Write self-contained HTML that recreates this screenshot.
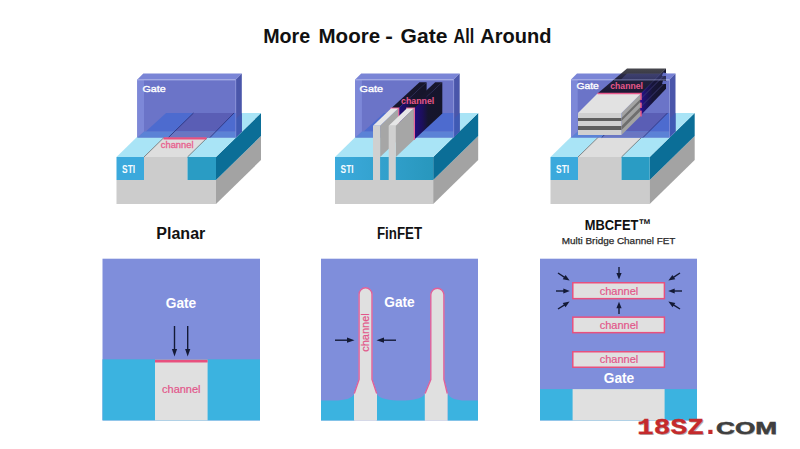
<!DOCTYPE html>
<html><head><meta charset="utf-8"><style>
html,body{margin:0;padding:0;background:#fff;}
body{width:800px;height:449px;overflow:hidden;}
svg{display:block;}
text{font-family:"Liberation Sans",sans-serif;}
.title{font-size:20.6px;font-weight:bold;fill:#111;}
.lab{font-size:16px;font-weight:bold;fill:#111;}
.sub{font-size:9.4px;fill:#2a2a2a;stroke:#2a2a2a;stroke-width:0.25px;}
.sti{font-size:10.8px;font-weight:bold;fill:#f4fbff;}
.g3{font-size:9.6px;font-weight:normal;fill:#fff;stroke:#fff;stroke-width:0.35px;}
.ch3{font-size:8.6px;font-weight:bold;fill:#e8588a;}
.ch3p{font-size:9px;font-weight:normal;fill:#e8608e;stroke:#e8608e;stroke-width:0.3px;}
.g4{font-size:14px;font-weight:bold;fill:#fff;}
.ch4{font-size:11px;fill:#e2568a;stroke:#e2568a;stroke-width:0.2px;}
.wm{font-family:"Liberation Sans",sans-serif;font-weight:bold;}
</style></head><body>
<svg width="800" height="449" viewBox="0 0 800 449">
<defs>
<linearGradient id="stig" x1="0" y1="0" x2="1" y2="0"><stop offset="0" stop-color="#3caadc"/><stop offset="1" stop-color="#2897bd"/></linearGradient>
<linearGradient id="darkg" x1="0" y1="0" x2="1" y2="0"><stop offset="0" stop-color="#220c80"/><stop offset="0.3" stop-color="#1c0f5a"/><stop offset="0.5" stop-color="#16152e"/><stop offset="1" stop-color="#15152a"/></linearGradient>
<linearGradient id="darkg2" x1="0" y1="0" x2="1" y2="0"><stop offset="0" stop-color="#24108a"/><stop offset="0.45" stop-color="#17153a"/><stop offset="1" stop-color="#141428"/></linearGradient>
<linearGradient id="dtop" x1="0" y1="1" x2="0" y2="0"><stop offset="0" stop-color="#1a1834"/><stop offset="0.55" stop-color="#20203c"/><stop offset="0.76" stop-color="#2c2c48"/><stop offset="0.79" stop-color="#3a3a46"/><stop offset="1" stop-color="#46464c"/></linearGradient>
</defs>
<rect width="800" height="449" fill="#fff"/>
<g class="title">
<text x="263.2" y="42.8" textLength="47" lengthAdjust="spacingAndGlyphs">More</text>
<text x="318.5" y="42.8" textLength="61.6" lengthAdjust="spacingAndGlyphs">Moore</text>
<text x="385.3" y="42.8" textLength="7.6" lengthAdjust="spacingAndGlyphs">-</text>
<text x="400.6" y="42.8" textLength="46.8" lengthAdjust="spacingAndGlyphs">Gate</text>
<text x="453.6" y="42.8" textLength="20.6" lengthAdjust="spacingAndGlyphs">All</text>
<text x="480.2" y="42.8" textLength="71.2" lengthAdjust="spacingAndGlyphs">Around</text>
</g>
<rect x="116.5" y="180" width="99.5" height="24" fill="#cccccc"/>
<polygon points="216.0,180.0 261.0,136.0 261.0,160.0 216.0,204.0" fill="#a3a3a3"/>
<polygon points="216.0,157.0 261.0,113.0 261.0,136.0 216.0,180.0" fill="#0b6e97"/>
<polygon points="116.5,157.0 144.0,157.0 189.0,113.0 161.5,113.0" fill="#a9e4f6"/>
<polygon points="144.0,157.0 187.5,157.0 232.5,113.0 189.0,113.0" fill="#dedede"/>
<polygon points="187.5,157.0 216.0,157.0 261.0,113.0 232.5,113.0" fill="#a9e4f6"/>
<rect x="116.5" y="157" width="27.5" height="23" fill="#3ba9dc"/>
<rect x="144.0" y="157" width="43.5" height="23" fill="#cccccc"/>
<rect x="187.5" y="157" width="28.5" height="23" fill="#2a9cc4"/>
<line x1="144.0" y1="157" x2="189.0" y2="113" stroke="#3a3a3a" stroke-width="0.7" opacity="0.8"/>
<line x1="187.5" y1="157" x2="232.5" y2="113" stroke="#3a3a3a" stroke-width="0.7" opacity="0.8"/>
<text x="122.1" y="172.7" class="sti" textLength="13" lengthAdjust="spacingAndGlyphs">STI</text>
<polygon points="137.3,79.6 235.8,79.6 241.8,73.6 143.3,73.6" fill="#7a85d6"/>
<polygon points="235.8,79.6 241.8,73.6 241.8,131.5 235.8,137.5" fill="#4a56aa"/>
<polygon points="235.8,119.0 241.8,113.0 241.8,131.5 235.8,137.5" fill="#3f5ab4"/>
<rect x="137.3" y="79.6" width="98.5" height="57.900000000000006" fill="#6b74c8"/>
<polygon points="145.8,131.6 166.1,113.0 235.8,113.0 235.8,131.6" fill="#4d6bcf"/>
<polygon points="174.4,131.6 193.5,113.0 234.0,113.0 215.8,131.6" fill="#5a5eb5"/>
<polygon points="144.0,131.6 235.8,131.6 235.8,137.5 137.3,137.5" fill="#5b82d6"/>
<polygon points="174.4,131.6 215.8,131.6 210.0,137.5 168.4,137.5" fill="#6a76c2"/>
<line x1="168.4" y1="137.5" x2="193.5" y2="113" stroke="#283078" stroke-width="0.8"/>
<line x1="210" y1="137.5" x2="234" y2="113" stroke="#283078" stroke-width="0.8"/>
<polygon points="137.3,79.6 144.0,80.1 144.0,131.6 137.3,137.5" fill="#7d88d8"/>
<line x1="137.3" y1="79.89999999999999" x2="235.8" y2="79.89999999999999" stroke="#a9b0ea" stroke-width="0.9"/>
<line x1="235.8" y1="79.6" x2="235.8" y2="137.5" stroke="#8a94dc" stroke-width="0.6"/>
<rect x="163.5" y="137.3" width="43" height="2.2" fill="#e8507e"/>
<text x="160.8" y="147.7" class="ch3p" textLength="32.7" lengthAdjust="spacingAndGlyphs">channel</text>
<text x="142.5" y="91.8" class="g3" textLength="23.2" lengthAdjust="spacingAndGlyphs">Gate</text>
<rect x="335" y="180" width="98.2" height="24" fill="#cccccc"/>
<polygon points="433.2,180.0 478.2,136.0 478.2,160.0 433.2,204.0" fill="#a3a3a3"/>
<polygon points="433.2,157.0 478.2,113.0 478.2,136.0 433.2,180.0" fill="#0b6e97"/>
<polygon points="335.0,157.0 433.2,157.0 478.2,113.0 380.0,113.0" fill="#a9e4f6"/>
<rect x="335" y="157" width="98.2" height="23" fill="url(#stig)"/>
<text x="340.6" y="172.7" class="sti" textLength="13" lengthAdjust="spacingAndGlyphs">STI</text>
<polygon points="355.2,79.6 453.7,79.6 459.7,73.6 361.2,73.6" fill="#7a85d6"/>
<polygon points="453.7,79.6 459.7,73.6 459.7,131.5 453.7,137.5" fill="#4a56aa"/>
<polygon points="453.7,119.0 459.7,113.0 459.7,131.5 453.7,137.5" fill="#3f5ab4"/>
<rect x="355.2" y="79.6" width="98.5" height="57.900000000000006" fill="#6b74c8"/>
<polygon points="363.7,131.6 384.0,113.0 453.7,113.0 453.7,131.6" fill="#4d6bcf"/>
<polygon points="361.9,131.6 453.7,131.6 453.7,137.5 355.2,137.5" fill="#5b82d6"/>
<polygon points="355.2,79.6 361.9,80.1 361.9,131.6 355.2,137.5" fill="#7d88d8"/>
<line x1="355.2" y1="79.89999999999999" x2="453.7" y2="79.89999999999999" stroke="#a9b0ea" stroke-width="0.9"/>
<line x1="453.7" y1="79.6" x2="453.7" y2="137.5" stroke="#8a94dc" stroke-width="0.6"/>
<text x="359.6" y="91.8" class="g3" textLength="23.5" lengthAdjust="spacingAndGlyphs">Gate</text>
<polygon points="391.0,108.6 398.1,108.6 426.6,82.2 419.5,82.2" fill="#17162c"/>
<polygon points="398.1,108.6 426.6,82.2 426.6,113.6 398.1,139.9" fill="url(#darkg)"/>
<polygon points="406.7,108.6 413.8,108.6 442.3,82.2 435.2,82.2" fill="#17162c"/>
<polygon points="413.8,108.6 442.3,82.2 442.3,113.6 413.8,139.9" fill="url(#darkg)"/>
<polyline points="390.5,108.3 398.4,108.3 398.4,139.9" fill="none" stroke="#e8649a" stroke-width="1.8"/>
<polyline points="406.2,108.3 414.1,108.3 414.1,139.9" fill="none" stroke="#e8649a" stroke-width="1.8"/>
<text x="401" y="103.7" class="ch3" textLength="33.3" lengthAdjust="spacingAndGlyphs">channel</text>
<polygon points="380.1,125.7 398.1,108.6 398.1,139.9 380.1,157.0" fill="#a6a6a6"/>
<polygon points="373.0,125.7 380.1,125.7 398.1,108.6 391.0,108.6" fill="#e6e6e6"/>
<rect x="373.0" y="125.7" width="7.1" height="54.3" fill="#d0d0d0"/>
<polygon points="395.8,125.7 413.8,108.6 413.8,139.9 395.8,157.0" fill="#a6a6a6"/>
<polygon points="388.7,125.7 395.8,125.7 413.8,108.6 406.7,108.6" fill="#e6e6e6"/>
<rect x="388.7" y="125.7" width="7.1" height="54.3" fill="#d0d0d0"/>
<rect x="550.5" y="180" width="99.2" height="24" fill="#cccccc"/>
<polygon points="649.7,180.0 694.7,136.0 694.7,160.0 649.7,204.0" fill="#a3a3a3"/>
<polygon points="649.7,157.0 694.7,113.0 694.7,136.0 649.7,180.0" fill="#0b6e97"/>
<polygon points="550.5,157.0 578.0,157.0 623.0,113.0 595.5,113.0" fill="#a9e4f6"/>
<polygon points="578.0,157.0 621.5,157.0 666.5,113.0 623.0,113.0" fill="#dedede"/>
<polygon points="621.5,157.0 649.7,157.0 694.7,113.0 666.5,113.0" fill="#a9e4f6"/>
<rect x="550.5" y="157" width="27.5" height="23" fill="#3ba9dc"/>
<rect x="578.0" y="157" width="43.5" height="23" fill="#cccccc"/>
<rect x="621.5" y="157" width="28.200000000000045" height="23" fill="#2a9cc4"/>
<line x1="578.0" y1="157" x2="623.0" y2="113" stroke="#3a3a3a" stroke-width="0.7" opacity="0.8"/>
<line x1="621.5" y1="157" x2="666.5" y2="113" stroke="#3a3a3a" stroke-width="0.7" opacity="0.8"/>
<text x="556.1" y="172.7" class="sti" textLength="13" lengthAdjust="spacingAndGlyphs">STI</text>
<polygon points="571.0,79.6 669.5,79.6 675.5,73.6 577.0,73.6" fill="#7a85d6"/>
<polygon points="669.5,79.6 675.5,73.6 675.5,131.5 669.5,137.5" fill="#4a56aa"/>
<polygon points="669.5,119.0 675.5,113.0 675.5,131.5 669.5,137.5" fill="#3f5ab4"/>
<rect x="571" y="79.6" width="98.5" height="57.900000000000006" fill="#6b74c8"/>
<polygon points="579.5,131.6 599.8,113.0 669.5,113.0 669.5,131.6" fill="#4d6bcf"/>
<polygon points="607.7,131.6 626.5,113.0 667.5,113.0 648.9,131.6" fill="#5a5eb5"/>
<polygon points="577.7,131.6 669.5,131.6 669.5,137.5 571.0,137.5" fill="#5b82d6"/>
<polygon points="607.7,131.6 648.9,131.6 643.0,137.5 601.7,137.5" fill="#6a76c2"/>
<line x1="601.7" y1="137.5" x2="626.5" y2="113" stroke="#283078" stroke-width="0.8"/>
<line x1="643" y1="137.5" x2="667.5" y2="113" stroke="#283078" stroke-width="0.8"/>
<polygon points="571.0,79.6 577.7,80.1 577.7,131.6 571.0,137.5" fill="#7d88d8"/>
<line x1="571" y1="79.89999999999999" x2="669.5" y2="79.89999999999999" stroke="#a9b0ea" stroke-width="0.9"/>
<line x1="669.5" y1="79.6" x2="669.5" y2="137.5" stroke="#8a94dc" stroke-width="0.6"/>
<text x="576.4" y="89.4" class="g3" textLength="22.5" lengthAdjust="spacingAndGlyphs">Gate</text>
<polygon points="597.5,93.5 641.0,93.5 666.0,68.4 627.0,68.4" fill="url(#dtop)"/>
<polygon points="641.0,93.5 666.0,68.4 666.0,88.7 641.0,115.0" fill="url(#darkg2)"/>
<line x1="641.0" y1="98.5" x2="666" y2="73.5" stroke="#3a3870" stroke-width="0.9"/>
<line x1="641.0" y1="106.5" x2="666" y2="81.5" stroke="#3a3870" stroke-width="0.9"/>
<polygon points="663.0,72.5 666.0,73.0 666.0,76.0 662.0,76.0" fill="#5f6ac0"/>
<polygon points="663.0,80.5 666.0,81.0 666.0,84.0 662.0,84.0" fill="#5f6ac0"/>
<polygon points="621.0,79.6 669.5,79.6 675.5,73.6 627.0,73.6" fill="#6a74d0" opacity="0.28"/>
<line x1="614" y1="79.9" x2="669.5" y2="79.9" stroke="#a9b0ea" stroke-width="0.9" opacity="0.7"/>
<text x="610.3" y="88.9" class="ch3" textLength="32.6" lengthAdjust="spacingAndGlyphs">channel</text>
<polygon points="621.5,113.0 641.0,93.5 641.0,115.5 621.5,135.0" fill="#a3a3a3"/>
<polygon points="621.5,118.0 641.0,98.5 641.0,101.5 621.5,121.0" fill="#6e6e6e"/>
<polygon points="621.5,126.0 641.0,106.5 641.0,110.5 621.5,130.0" fill="#6e6e6e"/>
<polygon points="578.0,113.0 621.5,113.0 641.0,93.5 597.5,93.5" fill="#e2e2e2"/>
<rect x="578" y="113" width="43.5" height="22" fill="#d0d0d0"/>
<rect x="578" y="118" width="43.5" height="3" fill="#5e5e5e"/>
<rect x="578" y="126" width="43.5" height="4" fill="#5e5e5e"/>
<polyline points="597.5,93.5 641.0,93.5 641.0,116.5" fill="none" stroke="#e8588c" stroke-width="1.5"/>
<rect x="640.2" y="100" width="2.5" height="2.6" fill="#2a0e8a"/>
<rect x="640.2" y="108" width="2.5" height="2.6" fill="#2a0e8a"/>
<text x="156.3" y="238.8" class="lab" textLength="49" lengthAdjust="spacingAndGlyphs">Planar</text>
<text x="377" y="238.8" class="lab" textLength="45" lengthAdjust="spacingAndGlyphs">FinFET</text>
<text x="584.8" y="229.5" class="lab" style="font-size:15.3px" textLength="66.5" lengthAdjust="spacingAndGlyphs">MBCFET™</text>
<text x="561.8" y="244.2" class="sub" textLength="113.6" lengthAdjust="spacingAndGlyphs">Multi Bridge Channel FET</text>
<rect x="102.5" y="258.7" width="157.5" height="161.7" fill="#7f8edb"/>
<rect x="102.5" y="359.3" width="157.5" height="61.1" fill="#3bb3e0"/>
<rect x="155" y="359.7" width="52.6" height="60.7" fill="#e0e0e0"/>
<rect x="155" y="359.7" width="52.6" height="2.8" fill="#e8507e"/>
<text x="181" y="307.5" class="g4" text-anchor="middle" textLength="30.5" lengthAdjust="spacingAndGlyphs">Gate</text>
<text x="181.3" y="392.5" class="ch4" text-anchor="middle">channel</text>
<line x1="174.5" y1="326" x2="174.5" y2="350" stroke="#141a36" stroke-width="1.4"/>
<polygon points="171.9,349.0 177.1,349.0 174.5,356.5" fill="#141a36"/>
<line x1="187.7" y1="326" x2="187.7" y2="350" stroke="#141a36" stroke-width="1.4"/>
<polygon points="185.1,349.0 190.3,349.0 187.7,356.5" fill="#141a36"/>
<rect x="321" y="258.7" width="157" height="161.7" fill="#7f8edb"/>
<path d="M321,400.5 L334,400.5 C345,400.5 352,398.5 354.5,393.5 L354.5,420.4 L321,420.4 Z" fill="#3bb3e0"/>
<path d="M376.5,393.5 C379,399 390,400.5 401,400.5 C412,400.5 422.5,399 425,393.5 L425,420.4 L376.5,420.4 Z" fill="#3bb3e0"/>
<path d="M447.5,393.5 C450,398.5 457,400.5 465,400.5 L478,400.5 L478,420.4 L447.5,420.4 Z" fill="#3bb3e0"/>
<path d="M358.8,294.25 A6.75,6.75 0 0 1 372.3,294.25 L372.3,379.5 L377,393.5 L377,420.4 L354,420.4 L354,393.5 L358.8,379.5 Z" fill="#e0e0e0"/>
<path d="M354.3,393.5 L359.1,379.5 L359.1,294.25 A6.45,6.45 0 0 1 372.0,294.25 L372.0,379.5 L376.7,393.5" fill="none" stroke="#e0609a" stroke-width="1.4"/>
<path d="M430.5,294.85 A6.849999999999994,6.849999999999994 0 0 1 444.2,294.85 L444.2,379.5 L447.6,393.5 L447.6,420.4 L424.8,420.4 L424.8,393.5 L430.5,379.5 Z" fill="#e0e0e0"/>
<path d="M425.1,393.5 L430.8,379.5 L430.8,294.85 A6.5499999999999945,6.5499999999999945 0 0 1 443.9,294.85 L443.9,379.5 L447.3,393.5" fill="none" stroke="#e0609a" stroke-width="1.4"/>
<text x="0" y="0" class="ch4" text-anchor="middle" transform="translate(369.4,332.5) rotate(-90)">channel</text>
<text x="399.5" y="307.3" class="g4" text-anchor="middle" textLength="30.5" lengthAdjust="spacingAndGlyphs">Gate</text>
<line x1="335" y1="340.2" x2="348" y2="340.2" stroke="#141a36" stroke-width="1.4"/>
<polygon points="347.0,337.6 347.0,342.8 354.5,340.2" fill="#141a36"/>
<line x1="396" y1="340.2" x2="383" y2="340.2" stroke="#141a36" stroke-width="1.4"/>
<polygon points="384.0,337.6 384.0,342.8 376.5,340.2" fill="#141a36"/>
<rect x="540" y="258.7" width="157" height="161.7" fill="#7f8edb"/>
<rect x="540" y="389.1" width="157" height="31.3" fill="#3bb3e0"/>
<rect x="572.6" y="389.1" width="92" height="31.3" fill="#e0e0e0"/>
<rect x="572.8" y="282.75" width="91.6" height="15.899999999999977" fill="#e0e0e0" stroke="#e8507e" stroke-width="1.5"/>
<text x="619" y="294.5" class="ch4" text-anchor="middle">channel</text>
<rect x="572.8" y="317.15" width="91.6" height="15.5" fill="#e0e0e0" stroke="#e8507e" stroke-width="1.5"/>
<text x="619" y="328.7" class="ch4" text-anchor="middle">channel</text>
<rect x="572.8" y="351.75" width="91.6" height="15.5" fill="#e0e0e0" stroke="#e8507e" stroke-width="1.5"/>
<text x="619" y="363.3" class="ch4" text-anchor="middle">channel</text>
<text x="619" y="383.4" class="g4" text-anchor="middle" textLength="30.5" lengthAdjust="spacingAndGlyphs">Gate</text>
<line x1="619.0" y1="267.0" x2="619.0" y2="274.0" stroke="#141a36" stroke-width="1.4"/><polygon points="616.4,273.0 621.6,273.0 619.0,279.5" fill="#141a36"/>
<line x1="619.0" y1="314.0" x2="619.0" y2="307.3" stroke="#141a36" stroke-width="1.4"/><polygon points="621.6,308.3 616.4,308.3 619.0,301.8" fill="#141a36"/>
<line x1="556.0" y1="291.0" x2="564.3" y2="291.0" stroke="#141a36" stroke-width="1.4"/><polygon points="563.3,293.6 563.3,288.4 569.8,291.0" fill="#141a36"/>
<line x1="682.0" y1="291.0" x2="673.7" y2="291.0" stroke="#141a36" stroke-width="1.4"/><polygon points="674.7,288.4 674.7,293.6 668.2,291.0" fill="#141a36"/>
<line x1="558.0" y1="273.0" x2="565.0" y2="277.6" stroke="#141a36" stroke-width="1.4"/><polygon points="562.7,279.2 565.6,274.9 569.6,280.6" fill="#141a36"/>
<line x1="558.0" y1="309.0" x2="565.0" y2="304.6" stroke="#141a36" stroke-width="1.4"/><polygon points="565.5,307.3 562.7,302.9 569.6,301.6" fill="#141a36"/>
<line x1="680.0" y1="273.0" x2="673.0" y2="277.6" stroke="#141a36" stroke-width="1.4"/><polygon points="672.4,274.9 675.3,279.2 668.4,280.6" fill="#141a36"/>
<line x1="680.0" y1="309.0" x2="673.0" y2="304.6" stroke="#141a36" stroke-width="1.4"/><polygon points="675.3,302.9 672.5,307.3 668.4,301.6" fill="#141a36"/>
<g class="wm">
<text x="638" y="435" style="font-family:'Liberation Mono',monospace" font-weight="bold" font-size="22" fill="#6a6a6a" opacity="0.5" textLength="67" lengthAdjust="spacingAndGlyphs">18SZ</text>
<text x="637" y="434" style="font-family:'Liberation Mono',monospace" font-weight="bold" font-size="22" fill="#c42a2c" stroke="#c42a2c" stroke-width="0.3" textLength="67" lengthAdjust="spacingAndGlyphs">18SZ</text>
<rect x="708.3" y="429.8" width="4.2" height="4.2" fill="#c42a2c"/>
<text x="716.8" y="434.8" font-size="16.5" fill="#7a7a7a" opacity="0.5" textLength="61" lengthAdjust="spacingAndGlyphs">COM</text>
<text x="716" y="434" font-size="16.5" fill="#3f3f3f" stroke="#3f3f3f" stroke-width="0.5" textLength="61" lengthAdjust="spacingAndGlyphs">COM</text>
</g>
</svg>
</body></html>
